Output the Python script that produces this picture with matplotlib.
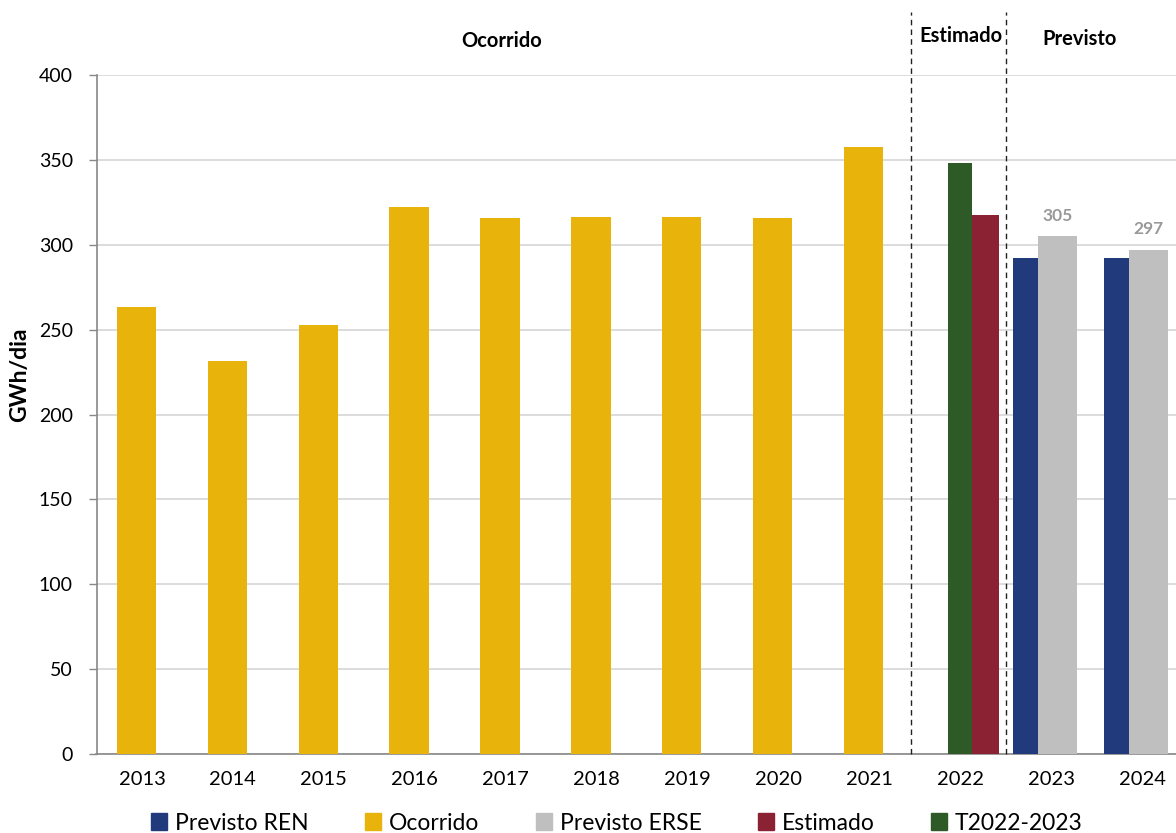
import matplotlib
matplotlib.use("Agg")
import matplotlib.pyplot as plt
from matplotlib.patches import Patch
import numpy as np

plt.rcParams['font.family'] = ['Lato', 'DejaVu Sans']

years = ['2013', '2014', '2015', '2016', '2017', '2018', '2019', '2020', '2021', '2022', '2023', '2024']
ocorrido = [263.5, 231.5, 253, 322, 316, 316.5, 316.5, 316, 357.5]
t2022_2023 = [348]
estimado = [317.5]
previsto_ren = [292, 292]
previsto_erse = [305, 297]

c_ren = '#203a7c'
c_oco = '#e8b30b'
c_erse = '#bfbfbf'
c_est = '#8b2233'
c_t = '#2e5a28'

fig = plt.figure(figsize=(11.76, 8.33), dpi=100)
ax = fig.add_axes([96.5/1176, 79/833, 1091/1176, 679/833])

x = np.arange(len(years))
# Ocorrido 2013-2021
ax.bar(x[:9] - 0.062, ocorrido, width=0.432, color=c_oco, zorder=3)
# 2022
ax.bar(x[9] - 0.13, t2022_2023, width=0.261, color=c_t, align='edge', zorder=3)
ax.bar(x[9] + 0.131, estimado, width=0.30, color=c_est, align='edge', zorder=3)
# 2023-2024
ax.bar(x[10:] - 0.421, previsto_ren, width=0.278, color=c_ren, align='edge', zorder=3)
ax.bar(x[10:] - 0.143, previsto_erse, width=0.426, color=c_erse, align='edge', zorder=3)
for xi, v in zip(x[10:], previsto_erse):
    ax.text(xi + 0.07, v + 7.5, f'{v:.0f}', ha='center', va='bottom',
            fontsize=12.5, fontweight='bold', color='#999999')

ax.set_xlim(-0.5, 11.5)
ax.set_ylim(0, 400)
ax.set_yticks(np.arange(0, 401, 50))
ax.set_xticks(x)
ax.set_xticklabels(years)
ax.tick_params(axis='x', length=0, pad=12, labelsize=14.5)
ax.tick_params(axis='y', length=6, width=1, color='#888888', labelsize=14, pad=11)
ax.grid(axis='y', color='#d9d9d9', linewidth=1.3, zorder=0)
ax.set_axisbelow(True)
for s in ['top', 'right']:
    ax.spines[s].set_visible(False)
ax.spines['left'].set_color('#888888')
ax.spines['left'].set_linewidth(1.2)
ax.spines['bottom'].set_color('#888888')
ax.spines['bottom'].set_linewidth(1.2)

ax.set_ylabel('GWh/dia', fontsize=16.5, fontweight='bold')
ax.yaxis.set_label_coords(-0.061, 0.558)

# dashed separators
for xs in [8.457, 9.506]:
    ax.plot([xs, xs], [0, 437], linestyle=(0, (4, 3)), color='#222222',
            linewidth=1.0, clip_on=False, zorder=4)

ax.text(3.96, 420, 'Ocorrido', ha='center', va='center', fontsize=14.5, fontweight='bold')
ax.text(9.01, 423, 'Estimado', ha='center', va='center', fontsize=14.5, fontweight='bold')
ax.text(10.31, 421, 'Previsto', ha='center', va='center', fontsize=14.5, fontweight='bold')

handles = [Patch(color=c_ren, label='Previsto REN'),
           Patch(color=c_oco, label='Ocorrido'),
           Patch(color=c_erse, label='Previsto ERSE'),
           Patch(color=c_est, label='Estimado'),
           Patch(color=c_t, label='T2022-2023')]
fig.legend(handles=handles, loc='center', bbox_to_anchor=(617/1176, 1 - 823/833),
           ncol=5, frameon=False, fontsize=16.5, handlelength=0.7, handleheight=0.7,
           handletextpad=0.35, columnspacing=2.45)

fig.savefig('out.png', dpi=100)
